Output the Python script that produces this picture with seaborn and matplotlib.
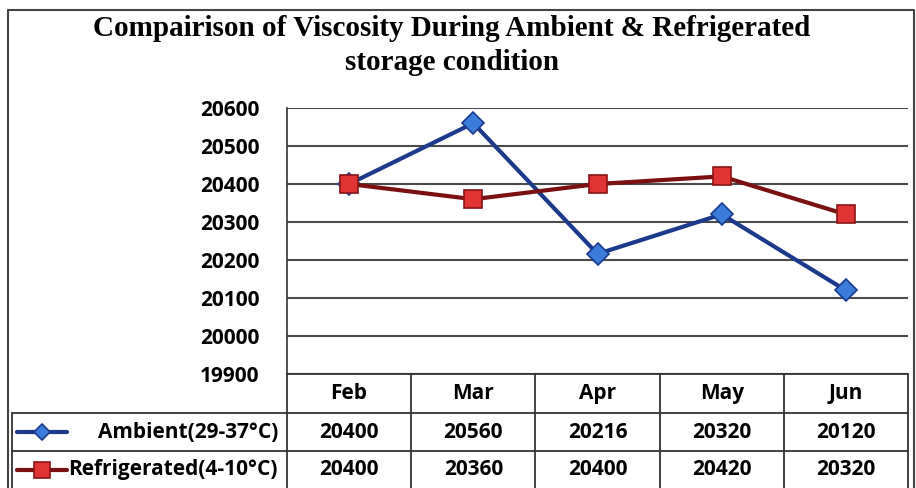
import matplotlib
matplotlib.use("Agg")
import matplotlib.pyplot as plt
import numpy as np
import pandas as pd
import seaborn as sns

# chart data
months = ["Feb", "Mar", "Apr", "May", "Jun"]
ambient = [20400, 20560, 20216, 20320, 20120]
refrigerated = [20400, 20360, 20400, 20420, 20320]
series_names = ["Ambient(29-37°C)", "Refrigerated(4-10°C)"]
y_ticks = [19900, 20000, 20100, 20200, 20300, 20400, 20500, 20600]

W, H = 916, 488
sns.set_style("white")
plt.rcParams["font.family"] = ["Open Sans", "DejaVu Sans"]
plt.rcParams["text.color"] = "black"
plt.rcParams["ytick.color"] = "black"

fig = plt.figure(figsize=(W / 100, H / 100), dpi=100)
fig.patch.set_facecolor("white")

amb_line, amb_face = "#1B3A8C", "#3A7DDA"
ref_line, ref_face, ref_edge = "#7A1010", "#E03434", "#8A1414"

# plot area in pixel terms
left, right, top, bottom = 287, 908, 108, 374
ax = fig.add_axes([left / W, 1 - bottom / H, (right - left) / W, (bottom - top) / H])

x = np.arange(len(months))
df = pd.DataFrame({"x": x, "ambient": ambient, "refrigerated": refrigerated})

sns.lineplot(data=df, x="x", y="ambient", ax=ax, color=amb_line, linewidth=3,
             marker="D", markersize=11, markerfacecolor=amb_face,
             markeredgecolor=amb_line, markeredgewidth=1.2, zorder=3)
sns.lineplot(data=df, x="x", y="refrigerated", ax=ax, color=ref_line, linewidth=3,
             marker="s", markersize=13.5, markerfacecolor=ref_face,
             markeredgecolor=ref_edge, markeredgewidth=1.2, zorder=4)

ax.set_xlim(-0.5, len(months) - 0.5)
ax.set_ylim(y_ticks[0], y_ticks[-1])
ax.set_yticks(y_ticks)
ax.set_yticklabels([str(t) for t in y_ticks], fontsize=15, fontweight="bold")
ax.set_xticks([])
ax.set_xlabel("")
ax.set_ylabel("")
ax.tick_params(axis="y", length=0, pad=20)
ax.grid(axis="y", color="#4a4a4a", linewidth=1.5)
ax.set_axisbelow(True)
for s in ["top", "right", "bottom"]:
    ax.spines[s].set_visible(False)
ax.spines["left"].set_color("#333333")
ax.spines["left"].set_linewidth(1.2)

# overlay axes in pixel coordinates for frame
ov = fig.add_axes([0, 0, 1, 1], zorder=-1)
ov.set_xlim(0, W)
ov.set_ylim(H, 0)
ov.axis("off")
ov.plot([8, 8, 914, 914], [H + 2, 10, 10, H + 2], color="#444444", linewidth=1.5)

fig.text(452 / W, 1 - 28 / H,
         "Compairison of Viscosity During Ambient & Refrigerated",
         family="Liberation Serif", fontweight="bold", fontsize=21,
         ha="center", va="center")
fig.text(452 / W, 1 - 63 / H, "storage condition",
         family="Liberation Serif", fontweight="bold", fontsize=21,
         ha="center", va="center")

# data table
col_w = (right - left) / len(months)
row_y = [bottom, 413, 451, H + 2]
lc = "#333333"
lw = 1.3
tab = fig.add_axes([0, 0, 1, 1], zorder=5)
tab.set_xlim(0, W)
tab.set_ylim(H, 0)
tab.axis("off")
tab.plot([left, right], [row_y[0], row_y[0]], color=lc, lw=lw)
for i in range(len(months) + 1):
    xx = left + i * col_w
    tab.plot([xx, xx], [row_y[0], row_y[3]], color=lc, lw=lw)
for r in (1, 2):
    tab.plot([12, right], [row_y[r], row_y[r]], color=lc, lw=lw)
tab.plot([12, 12], [row_y[1], row_y[3]], color=lc, lw=lw)

for i, m in enumerate(months):
    cx = left + (i + 0.5) * col_w
    tab.text(cx, (row_y[0] + row_y[1]) / 2, m, fontsize=15, fontweight="bold",
             ha="center", va="center")
    tab.text(cx, (row_y[1] + row_y[2]) / 2, str(ambient[i]), fontsize=15,
             fontweight="bold", ha="center", va="center")
    tab.text(cx, (row_y[2] + row_y[3]) / 2 - 1, str(refrigerated[i]), fontsize=15,
             fontweight="bold", ha="center", va="center")

# legend keys in the table
ya = (row_y[1] + row_y[2]) / 2
yr = (row_y[2] + row_y[3]) / 2 - 1
tab.plot([17, 67], [ya, ya], color=amb_line, lw=3)
tab.plot([42], [ya], marker="D", markersize=8, markerfacecolor=amb_face,
         markeredgecolor=amb_line, markeredgewidth=1.2)
tab.plot([17, 67], [yr, yr], color=ref_line, lw=3)
tab.plot([42], [yr], marker="s", markersize=11, markerfacecolor=ref_face,
         markeredgecolor=ref_edge, markeredgewidth=1.2)
tab.text(278, ya, series_names[0], fontsize=15, fontweight="bold", ha="right", va="center")
tab.text(278, yr, series_names[1], fontsize=15, fontweight="bold", ha="right", va="center")

fig.savefig("out.png", dpi=100)
